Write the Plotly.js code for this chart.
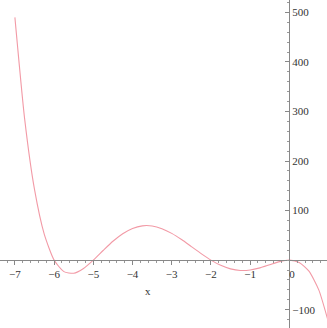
<!DOCTYPE html>
<html>
<head>
<meta charset="utf-8">
<script src="https://cdn.plot.ly/plotly-3.0.1.min.js"></script>
<style>html,body{margin:0;padding:0;background:#fff;}#chart{width:327px;height:328px;}</style>
</head>
<body>
<div id="chart"></div>
<script>
// Values
const xs = [-7, -6.75, -6.5, -6.25, -6, -5.75, -5.5, -5.25, -5, -4.75, -4.5, -4.25, -4, -3.75, -3.5, -3.25, -3, -2.75, -2.5, -2.25, -2, -1.75, -1.5, -1.25, -1, -0.75, -0.5, -0.25, 0, 0.25, 0.5, 0.75, 1];
const ys = [490, 284, 142.6, 51.9, 0, -23.2, -26.5, -16.8, 0, 19.4, 38.0, 53.3, 64, 69.2, 68.9, 63.5, 54, 41.5, 27.3, 13.1, 0, -10.6, -17.7, -20.9, -20, -15.7, -9.3, -3.0, 0, -4.6, -22.3, -60, -126];
const xTicks = [-7, -6, -5, -4, -3, -2, -1, 0, 1];
const xTickText = ['−7', '−6', '−5', '−4', '−3', '−2', '−1', '  0', '1'];
const yTicks = [-100, 100, 200, 300, 400, 500];
const yTickText = ['−100', '100', '200', '300', '400', '500'];

const font = {family: 'Liberation Serif, serif', size: 11, color: '#333'};
const trace = {x: xs, y: ys, mode: 'lines', line: {color: '#f29aa6', width: 1.1, shape: 'spline', smoothing: 0.6}, hoverinfo: 'none'};
const layout = {
  width: 327, height: 328,
  margin: {l: 0, r: 0, t: 0, b: 0},
  paper_bgcolor: '#fff', plot_bgcolor: '#fff',
  showlegend: false,
  xaxis: {range: [-7.38, 0.96], anchor: 'free', position: 0.207, showgrid: false, zeroline: false,
    showline: true, linecolor: '#888', linewidth: 1,
    tickmode: 'array', tickvals: xTicks, ticktext: xTickText, ticks: 'outside', ticklen: 4, tickcolor: '#888',
    minor: {dtick: 0.2, ticks: 'outside', ticklen: 2, tickcolor: '#999'},
    tickfont: font},
  yaxis: {range: [-137, 525], anchor: 'free', position: 0.884, side: 'right', showgrid: false, zeroline: false,
    showline: true, linecolor: '#888', linewidth: 1,
    tickmode: 'array', tickvals: yTicks, ticktext: yTickText, ticks: 'inside', ticklen: 4, tickcolor: '#888',
    minor: {dtick: 20, ticks: 'inside', ticklen: 2, tickcolor: '#999'},
    tickfont: font},
  annotations: [{x: -3.6, y: -62, xref: 'x', yref: 'y', text: 'x', showarrow: false, font: font}]
};
Plotly.newPlot('chart', [trace], layout, {staticPlot: true, displayModeBar: false});
</script>
</body>
</html>
